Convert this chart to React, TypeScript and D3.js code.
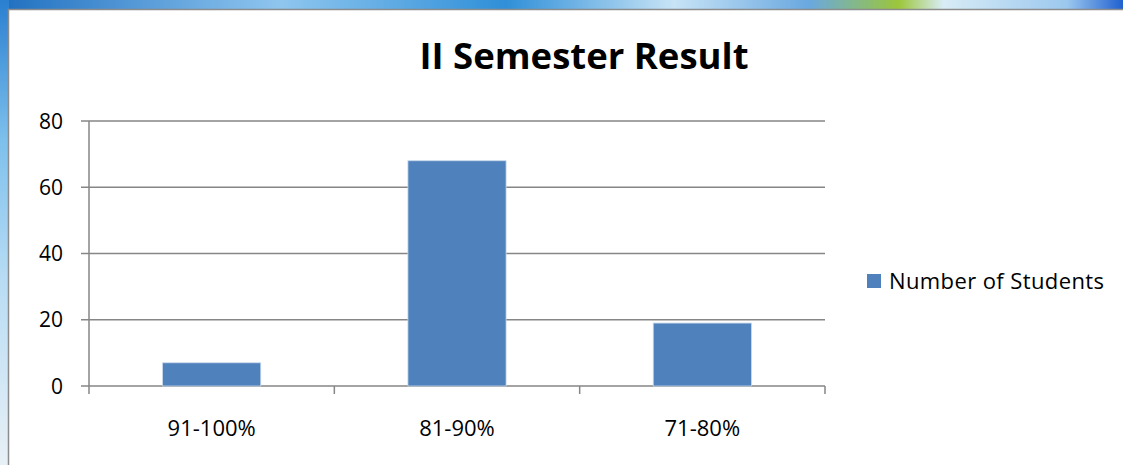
import React, { useRef, useEffect } from 'react';
import * as d3 from 'd3';

const W = 1123;
const H = 465;

const title = 'II Semester Result';
const seriesName = 'Number of Students';
const categories = ['91-100%', '81-90%', '71-80%'];
const values = [7, 68, 19];
const yTicks = [0, 20, 40, 60, 80];

const plot = { left: 89, right: 825, top: 121, bottom: 386 };
const FONT = "'Open Sans', 'Noto Sans', sans-serif";
const BAR = '#4f81bd';
const GRID = '#868686';

const App = () => {
  const svgRef = useRef<SVGSVGElement>(null);

  useEffect(() => {
    const svg = d3.select(svgRef.current);
    svg.selectAll('*').remove();

    // decorative background behind the chart frame
    const defs = svg.append('defs');
    const topGrad = defs.append('linearGradient').attr('id', 'topGrad');
    [['0%', '#1f6fc0'], ['25%', '#8fc6ef'], ['45%', '#2f8fd8'], ['60%', '#c8e4f6'], ['72%', '#6aa8e0'],
      ['80%', '#9cc63a'], ['84%', '#d8ecf6'], ['95%', '#9cc8ee'], ['100%', '#2060d0']]
      .forEach(([o, c]) => topGrad.append('stop').attr('offset', o).attr('stop-color', c));
    const leftGrad = defs.append('linearGradient').attr('id', 'leftGrad')
      .attr('x1', 0).attr('y1', 0).attr('x2', 0).attr('y2', 1);
    [['0%', '#2a7fd0'], ['30%', '#7dc0ec'], ['60%', '#b8dcf4'], ['100%', '#e8f0f6']]
      .forEach(([o, c]) => leftGrad.append('stop').attr('offset', o).attr('stop-color', c));

    svg.append('rect').attr('width', W).attr('height', 10).attr('fill', 'url(#topGrad)');
    svg.append('rect').attr('y', 0).attr('width', 9).attr('height', H).attr('fill', 'url(#leftGrad)');

    // chart frame
    svg.append('rect')
      .attr('x', 8.5).attr('y', 9.5).attr('width', W).attr('height', H)
      .attr('fill', 'white').attr('stroke', '#8c8c8c').attr('stroke-width', 1.5);

    const x = d3.scaleBand().domain(categories).range([plot.left, plot.right]).paddingInner(0.6).paddingOuter(0.3);
    const xOuter = d3.scaleBand().domain(categories).range([plot.left, plot.right]);
    const y = d3.scaleLinear().domain([0, 80]).range([plot.bottom, plot.top]);

    // gridlines + y ticks
    svg.append('g').selectAll('line').data(yTicks).join('line')
      .attr('x1', plot.left - 8).attr('x2', plot.right)
      .attr('y1', d => y(d)).attr('y2', d => y(d))
      .attr('stroke', GRID).attr('stroke-width', 1.5);

    svg.append('g').selectAll('text').data(yTicks).join('text')
      .attr('x', 63).attr('y', d => y(d) + 7.5)
      .attr('text-anchor', 'end')
      .attr('font-family', FONT).attr('font-size', 21)
      .text(d => d);

    // y axis line
    svg.append('line')
      .attr('x1', plot.left).attr('x2', plot.left)
      .attr('y1', plot.top).attr('y2', plot.bottom + 8)
      .attr('stroke', GRID).attr('stroke-width', 1.5);

    // category separators
    svg.append('g').selectAll('line').data(categories).join('line')
      .attr('x1', d => (xOuter(d) as number) + xOuter.bandwidth())
      .attr('x2', d => (xOuter(d) as number) + xOuter.bandwidth())
      .attr('y1', plot.bottom).attr('y2', plot.bottom + 8)
      .attr('stroke', GRID).attr('stroke-width', 1.5);

    // bars
    svg.append('g').selectAll('rect').data(values).join('rect')
      .attr('x', (d, i) => x(categories[i]) as number)
      .attr('y', d => y(d))
      .attr('width', x.bandwidth())
      .attr('height', d => plot.bottom - y(d))
      .attr('fill', BAR)
      .attr('stroke', '#c6d6ea').attr('stroke-width', 0.8);

    // category labels
    svg.append('g').selectAll('text').data(categories).join('text')
      .attr('x', d => (xOuter(d) as number) + xOuter.bandwidth() / 2)
      .attr('y', 436)
      .attr('text-anchor', 'middle')
      .attr('font-family', FONT).attr('font-size', 22)
      .text(d => d);

    // title
    svg.append('text')
      .attr('x', 584).attr('y', 69)
      .attr('text-anchor', 'middle')
      .attr('font-family', FONT).attr('font-weight', 'bold').attr('font-size', 36.5)
      .text(title);

    // legend
    svg.append('rect')
      .attr('x', 867).attr('y', 274).attr('width', 14).attr('height', 14)
      .attr('fill', BAR);
    svg.append('text')
      .attr('x', 889).attr('y', 289)
      .attr('font-family', FONT).attr('font-size', 22)
      .attr('textLength', 215)
      .text(seriesName);
  }, []);

  return (
    <svg ref={svgRef} width={W} height={H}
      style={{ position: 'absolute', left: 0, top: 0, background: 'white' }} />
  );
};

export default App;
